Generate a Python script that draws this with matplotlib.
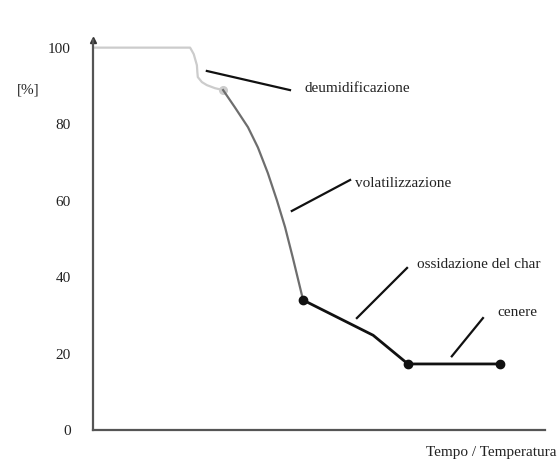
import matplotlib.pyplot as plt

plt.rcParams['font.family'] = ['Liberation Serif', 'DejaVu Serif']

# curve pieces (x: arbitrary time/temperature units, y: mass %)
x_deum = [0, 21.5, 22.3, 23.0, 23.1, 23.2, 24.1, 25.2, 27.0, 28.8]
y_deum = [100, 100, 98.3, 95.4, 93.6, 92.3, 91.0, 90.2, 89.4, 88.9]
x_vol = [28.8, 31.4, 34.3, 36.5, 38.7, 40.7, 42.5, 44.2, 46.5]
y_vol = [88.9, 84.4, 79.2, 73.9, 67.2, 60.1, 53.1, 45.2, 34.0]
x_char = [46.5, 62.0, 69.7, 90.0]
y_char = [34, 24.8, 17.3, 17.3]

yticks = [0, 20, 40, 60, 80, 100]

# labels: (text, line start, line end, text pos)
labels = [
    ("deumidificazione", (25.2, 93.9), (43.6, 88.9), (46.7, 89.2)),
    ("volatilizzazione", (44.0, 57.3), (56.9, 65.4), (58.0, 64.6)),
    ("ossidazione del char", (58.4, 29.3), (69.5, 42.4), (71.7, 43.4)),
    ("cenere", (79.4, 19.3), (86.3, 29.3), (89.4, 30.8)),
]

fig = plt.figure(figsize=(5.6, 4.65), dpi=100)
ax = fig.add_axes([0.166, 0.075, 0.807, 0.839])

ax.plot(x_deum, y_deum, color='#cccccc', lw=1.6, solid_joinstyle='round')
ax.plot(x_deum[-1], y_deum[-1], 'o', color='#cccccc', ms=5.5)
ax.plot(x_vol, y_vol, color='#6e6e6e', lw=1.6, solid_joinstyle='round')
ax.plot(x_char, y_char, color='#111111', lw=2)
ax.plot([x_char[0], x_char[2], x_char[3]], [y_char[0], y_char[2], y_char[3]],
        'o', color='#111111', ms=6)

for txt, p0, p1, pt in labels:
    ax.plot([p0[0], p1[0]], [p0[1], p1[1]], color='#111111', lw=1.6)
    ax.text(pt[0], pt[1], txt, fontsize=11, va='center', ha='left', color='#222222')

ax.set_xlim(0, 100)
ax.set_ylim(0, 102)
ax.set_yticks(yticks)
ax.set_xticks([])
ax.tick_params(axis='y', length=0, pad=16, labelsize=11, labelcolor='#222222')
for s in ['top', 'right']:
    ax.spines[s].set_visible(False)
for s in ['left', 'bottom']:
    ax.spines[s].set_color('#555555')
    ax.spines[s].set_linewidth(1.6)
ax.plot(0, 1, '^', color='#333333', ms=4, transform=ax.transAxes, clip_on=False)

fig.text(0.05, 1 - 90 / 465, "[%]", fontsize=11, ha='center', va='center', color='#222222')
fig.text(0.993, 1 - 452 / 465, "Tempo / Temperatura", fontsize=11, ha='right', va='center',
         color='#222222')

fig.savefig('out.png', dpi=100)
